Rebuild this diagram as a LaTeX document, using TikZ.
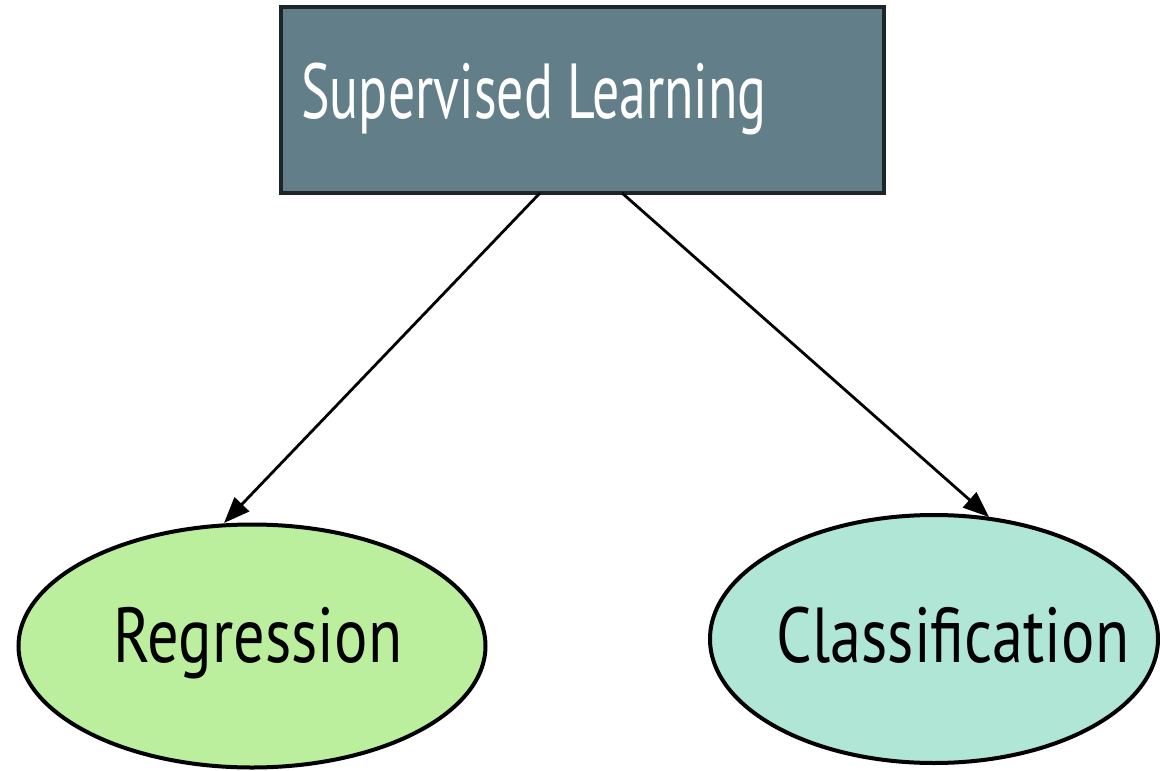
\documentclass[tikz,border=0pt]{standalone}
\usepackage{fontspec}
\usetikzlibrary{arrows.meta,shapes.geometric}
\newfontfamily\labelfont[FakeStretch=0.80]{PT Sans}
\newfontfamily\titlefont[FakeStretch=0.69]{PT Sans}
\definecolor{slate}{HTML}{627F89}
\definecolor{regfill}{HTML}{BBEF9E}
\definecolor{clsfill}{HTML}{B0E6D6}
\definecolor{frame}{HTML}{1C2628}
\tikzset{
  headbox/.style={draw=frame, line width=4.5pt, fill=slate, rectangle, inner sep=0pt},
  leaf/.style={draw=black, line width=4pt, ellipse, inner sep=0pt},
  lbl/.style={anchor=base, inner sep=0pt, font=\labelfont\fontsize{78}{80}\selectfont},
  link/.style={line width=2.8pt, -{Triangle[length=26pt,width=20pt]}},
}
\begin{document}
\begin{tikzpicture}[x=1pt,y=-1pt]
\useasboundingbox (0,0) rectangle (1160,771);
% top category box
\node[headbox, minimum width=603pt, minimum height=186pt] (sup) at (582.5,100) {};
\node[lbl, text=white, font=\titlefont\fontsize{78}{80}\selectfont] (suptext) at (534,118) {Supervised Learning};
% the two branches
\node[leaf, fill=regfill, minimum width=467pt, minimum height=243pt] (reg) at (252,646) {};
\node[lbl] (regtext) at (258,662) {Regression};
\node[leaf, fill=clsfill, minimum width=448pt, minimum height=248pt] (cls) at (934,639) {};
\node[lbl] (clstext) at (953,662) {Classification};
% connector end points on the box and the ellipse rims
\coordinate (s1) at (540,193);
\coordinate (s2) at (622,193);
\coordinate (t1) at (224,523);
\coordinate (t2) at (989,517);
\draw[link] (s1) -- (t1);
\draw[link] (s2) -- (t2);
\end{tikzpicture}
\end{document}
